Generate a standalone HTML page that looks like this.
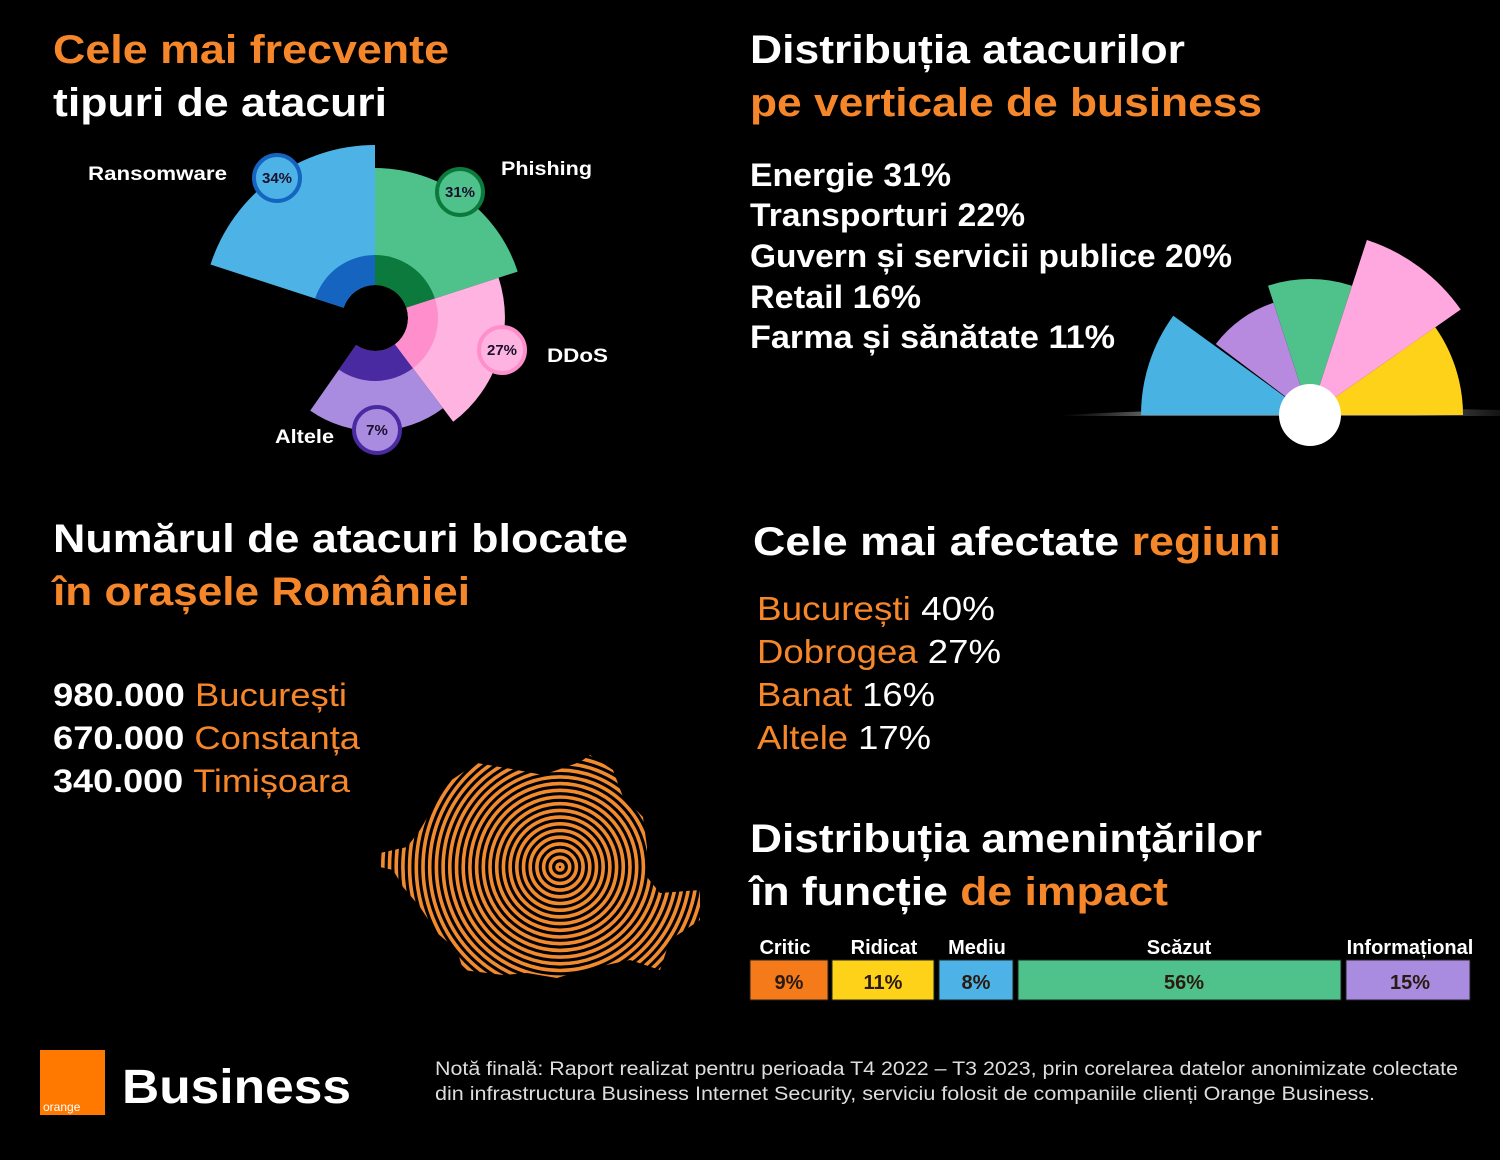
<!DOCTYPE html>
<html><head><meta charset="utf-8"><style>
html,body{margin:0;padding:0;background:#000;}
svg{display:block}
text{font-family:"Liberation Sans",Arial,sans-serif;}
</style></head><body>
<svg id="s" width="1500" height="1160" viewBox="0 0 1500 1160" xmlns="http://www.w3.org/2000/svg">
<defs>
<linearGradient id="bl" x1="0" x2="1" y1="0" y2="0">
<stop offset="0" stop-color="#444" stop-opacity="0"/><stop offset="0.2" stop-color="#666"/><stop offset="0.8" stop-color="#666"/><stop offset="1" stop-color="#444" stop-opacity="0.3"/>
</linearGradient>
<clipPath id="ro"><polygon points="380,853 407,847 420,830 447,783 477,763 517,770 543,775 580,762 590,755 613,770 623,797 643,817 647,847 647,877 660,893 700,890 700,920 670,940 660,970 630,960 583,970 557,978 527,973 503,975 463,970 457,950 437,933 420,907 403,887 393,870 380,867"/></clipPath>
</defs>
<rect width="1500" height="1160" fill="#000"/>
<g id="pies"></g>
<g id="rings" clip-path="url(#ro)" fill="none" stroke="#f28a2e" stroke-width="3.6"></g>

<g font-weight="bold" font-size="40">
<text x="53" y="63" fill="#f5862a" textLength="396" lengthAdjust="spacingAndGlyphs">Cele mai frecvente</text>
<text x="53" y="116" fill="#fff" textLength="334" lengthAdjust="spacingAndGlyphs">tipuri de atacuri</text>
<text x="750" y="63" fill="#fff" textLength="435" lengthAdjust="spacingAndGlyphs">Distribuția atacurilor</text>
<text x="750" y="116" fill="#f5862a" textLength="512" lengthAdjust="spacingAndGlyphs">pe verticale de business</text>
<text x="53" y="552" fill="#fff" textLength="575" lengthAdjust="spacingAndGlyphs">Numărul de atacuri blocate</text>
<text x="53" y="605" fill="#f5862a" textLength="417" lengthAdjust="spacingAndGlyphs">în orașele României</text>
<text x="753" y="555" fill="#fff" textLength="528" lengthAdjust="spacingAndGlyphs">Cele mai afectate <tspan fill="#f5862a">regiuni</tspan></text>
<text x="750" y="852" fill="#fff" textLength="512" lengthAdjust="spacingAndGlyphs">Distribuția amenințărilor</text>
<text x="750" y="905" fill="#fff" textLength="418" lengthAdjust="spacingAndGlyphs">în funcție <tspan fill="#f5862a">de impact</tspan></text>
</g>
<g font-weight="bold" font-size="32" fill="#fff">
<text x="750" y="186" textLength="201" lengthAdjust="spacingAndGlyphs">Energie 31%</text>
<text x="750" y="226" textLength="275" lengthAdjust="spacingAndGlyphs">Transporturi 22%</text>
<text x="750" y="267" textLength="482" lengthAdjust="spacingAndGlyphs">Guvern și servicii publice 20%</text>
<text x="750" y="308" textLength="171" lengthAdjust="spacingAndGlyphs">Retail 16%</text>
<text x="750" y="348" textLength="365" lengthAdjust="spacingAndGlyphs">Farma și sănătate 11%</text>
<text x="53" y="706" textLength="294" lengthAdjust="spacingAndGlyphs">980.000 <tspan fill="#f5862a" font-weight="normal">București</tspan></text>
<text x="53" y="749" textLength="307" lengthAdjust="spacingAndGlyphs">670.000 <tspan fill="#f5862a" font-weight="normal">Constanța</tspan></text>
<text x="53" y="792" textLength="297" lengthAdjust="spacingAndGlyphs">340.000 <tspan fill="#f5862a" font-weight="normal">Timișoara</tspan></text>
</g>
<g font-size="33" fill="#fff">
<text x="757" y="620" textLength="238" lengthAdjust="spacingAndGlyphs"><tspan fill="#f5862a">București</tspan> 40%</text>
<text x="757" y="663" textLength="244" lengthAdjust="spacingAndGlyphs"><tspan fill="#f5862a">Dobrogea</tspan> 27%</text>
<text x="757" y="706" textLength="178" lengthAdjust="spacingAndGlyphs"><tspan fill="#f5862a">Banat</tspan> 16%</text>
<text x="757" y="749" textLength="174" lengthAdjust="spacingAndGlyphs"><tspan fill="#f5862a">Altele</tspan> 17%</text>
</g>
<g font-weight="bold" font-size="19" fill="#fff">
<text x="88" y="180" textLength="139" lengthAdjust="spacingAndGlyphs">Ransomware</text>
<text x="501" y="175" textLength="91" lengthAdjust="spacingAndGlyphs">Phishing</text>
<text x="547" y="362" textLength="61" lengthAdjust="spacingAndGlyphs">DDoS</text>
<text x="275" y="443" textLength="59" lengthAdjust="spacingAndGlyphs">Altele</text>
</g>
<!-- bar -->
<g stroke="#222" stroke-width="1">
<rect x="750" y="960" width="78" height="40" fill="#f47a1a"/>
<rect x="832" y="960" width="102" height="40" fill="#ffd21a"/>
<rect x="939" y="960" width="74" height="40" fill="#4db3e6"/>
<rect x="1018" y="960" width="323" height="40" fill="#4fc18a"/>
<rect x="1346" y="960" width="124" height="40" fill="#a98be0"/>
</g>
<g font-weight="bold" font-size="20" fill="#fff" text-anchor="middle">
<text x="785" y="954">Critic</text><text x="884" y="954">Ridicat</text><text x="977" y="954">Mediu</text><text x="1179" y="954">Scăzut</text><text x="1410" y="954">Informațional</text>
</g>
<g font-weight="bold" font-size="20" fill="#2a1a10" text-anchor="middle">
<text x="789" y="989">9%</text><text x="883" y="989">11%</text><text x="976" y="989">8%</text><text x="1184" y="989">56%</text><text x="1410" y="989">15%</text>
</g>
<!-- footer -->
<rect x="40" y="1050" width="65" height="65" fill="#ff7900"/>
<text x="43" y="1111" font-size="12" fill="#fff">orange</text>
<text x="122" y="1103" font-size="48" font-weight="bold" fill="#fff" textLength="229" lengthAdjust="spacingAndGlyphs">Business</text>
<g font-size="19" fill="#ddd">
<text x="435" y="1075" textLength="1023" lengthAdjust="spacingAndGlyphs">Notă finală: Raport realizat pentru perioada T4 2022 – T3 2023, prin corelarea datelor anonimizate colectate</text>
<text x="435" y="1100" textLength="940" lengthAdjust="spacingAndGlyphs">din infrastructura Business Internet Security, serviciu folosit de companiile clienți Orange Business.</text>
</g>
</svg>
<script>
var NS="http://www.w3.org/2000/svg";
function P(d,f,parent){var p=document.createElementNS(NS,"path");p.setAttribute("d",d);p.setAttribute("fill",f);(parent||document.getElementById("pies")).appendChild(p);}
function W(cx,cy,r0,r1,a0,a1){var r=Math.PI/180;function pt(R,a){return (cx+R*Math.cos(a*r)).toFixed(1)+","+(cy+R*Math.sin(a*r)).toFixed(1);}
var l=(a1-a0)>180?1:0;
return "M"+pt(r1,a0)+" A"+r1+","+r1+" 0 "+l+" 1 "+pt(r1,a1)+" L"+pt(r0,a1)+" A"+r0+","+r0+" 0 "+l+" 0 "+pt(r0,a0)+"Z";}
function C(x,y,r,f,s,t){var g=document.getElementById("pies");var c=document.createElementNS(NS,"circle");c.setAttribute("cx",x);c.setAttribute("cy",y);c.setAttribute("r",r);c.setAttribute("fill",f);if(s){c.setAttribute("stroke",s);c.setAttribute("stroke-width",4);}g.appendChild(c);
if(t){var e=document.createElementNS(NS,"text");e.setAttribute("x",x);e.setAttribute("y",y+5);e.setAttribute("text-anchor","middle");e.setAttribute("font-size","15");e.setAttribute("font-weight","bold");e.setAttribute("fill","#1a1030");e.textContent=t;g.appendChild(e);}}
var cx=375,cy=318;
P(W(cx,cy,33,173,198,270),"#4db3e6");
P(W(cx,cy,33,150,270,342),"#4fc18a");
P(W(cx,cy,33,130,342,413),"#ffb3e0");
P(W(cx,cy,33,113,53,125),"#a98be0");
P(W(cx,cy,33,63,198,270),"#1565c0");
P(W(cx,cy,33,63,270,342),"#0b7a3c");
P(W(cx,cy,33,63,342,413),"#ff8fcc");
P(W(cx,cy,33,63,53,125),"#4a2aa0");
C(277,178,23,"#4db3e6","#1565c0","34%");
C(460,192,23,"#4fc18a","#0b7a3c","31%");
C(502,350,23,"#ffb3e0","#ff8fcc","27%");
C(377,430,23,"#a98be0","#4a2aa0","7%");
// right
var x2=1310,y2=415;
var bl=document.createElementNS(NS,"path");bl.setAttribute("d","M1060,415 Q1200,408 1310,408 Q1420,408 1500,410 L1500,416 L1060,416Z");bl.setAttribute("fill","url(#bl)");document.getElementById("pies").appendChild(bl);
P(W(x2,y2,0,169,180,216),"#48b2e3");
P(W(x2,y2,0,118,217,252),"#b78ae0");
P(W(x2,y2,0,136,252,288),"#4fc18a");
P(W(x2,y2,0,184,288,325),"#ffa8e0");
P(W(x2,y2,0,153,325,360),"#ffd21a");
C(x2,y2,31,"#fff");
// rings
var g=document.getElementById("rings");
for(var r=3;r<200;r+=6.7){var c=document.createElementNS(NS,"circle");c.setAttribute("cx",560);c.setAttribute("cy",867);c.setAttribute("r",r.toFixed(1));g.appendChild(c);}
</script>
</body></html>
